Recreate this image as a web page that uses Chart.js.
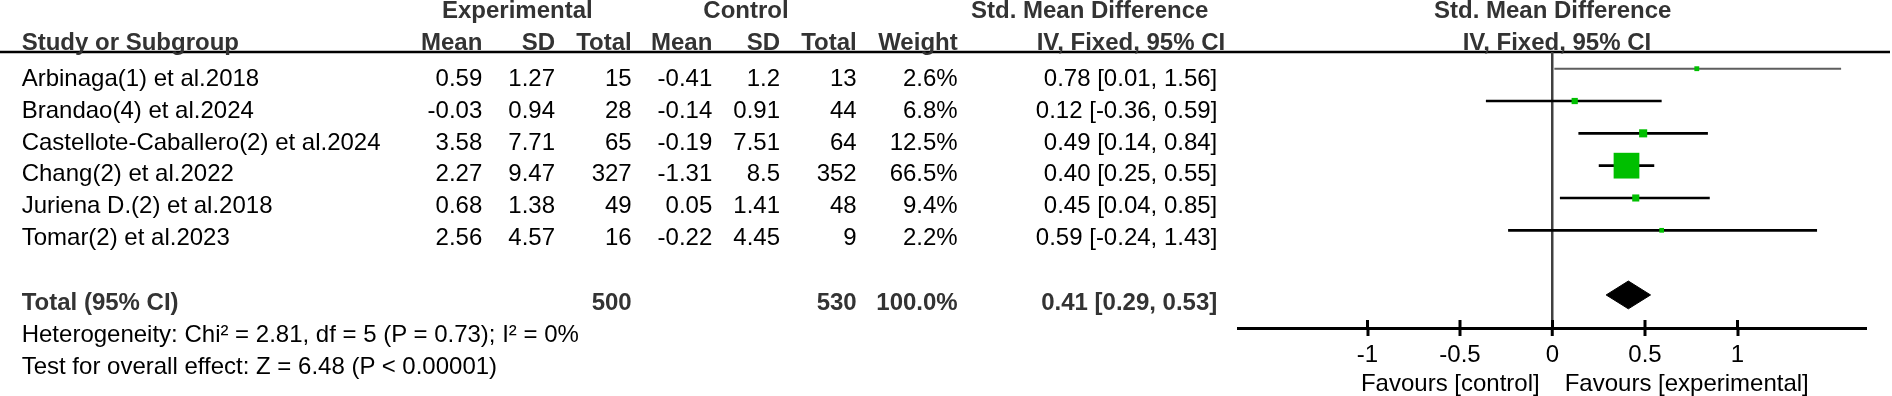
<!DOCTYPE html>
<html>
<head>
<meta charset="utf-8">
<script src="https://cdn.jsdelivr.net/npm/chart.js@4"></script>
<style>
  html, body { margin:0; padding:0; background:#fff; }
  #wrap { position:relative; width:1892px; height:396px; overflow:hidden; }
  #c { position:absolute; left:0; top:0; }
  .t { position:absolute; font-family:'Liberation Sans', Arial, sans-serif; font-size:24px; line-height:24px; white-space:nowrap; color:#000; z-index:2; }
  .b { font-weight:bold; color:#333; }
</style>
</head>
<body>
<div id="wrap"><canvas id="c" width="1892" height="396"></canvas></div>
<script>
// ---------- data ----------
const studies = ["Arbinaga(1) et al.2018","Brandao(4) et al.2024","Castellote-Caballero(2) et al.2024","Chang(2) et al.2022","Juriena D.(2) et al.2018","Tomar(2) et al.2023"];
const expMean  = [0.59, -0.03, 3.58, 2.27, 0.68, 2.56];
const expSD    = [1.27, 0.94, 7.71, 9.47, 1.38, 4.57];
const expTotal = [15, 28, 65, 327, 49, 16];
const ctlMean  = [-0.41, -0.14, -0.19, -1.31, 0.05, -0.22];
const ctlSD    = [1.2, 0.91, 7.51, 8.5, 1.41, 4.45];
const ctlTotal = [13, 44, 64, 352, 48, 9];
const weight   = [2.6, 6.8, 12.5, 66.5, 9.4, 2.2];
const smd      = [0.78, 0.12, 0.49, 0.40, 0.45, 0.59];
const ciLow    = [0.01, -0.36, 0.14, 0.25, 0.04, -0.24];
const ciHigh   = [1.56, 0.59, 0.84, 0.55, 0.85, 1.43];
const totalExp = 500, totalCtl = 530, totalWeight = 100.0;
const totalSMD = 0.41, totalLow = 0.29, totalHigh = 0.53;
const tickValues = [-1, -0.5, 0, 0.5, 1];
const tickLabels = ["-1", "-0.5", "0", "0.5", "1"];
const xRange = [-1.7, 1.7];
const heterogeneity = "Heterogeneity: Chi\u00b2 = 2.81, df = 5 (P = 0.73); I\u00b2 = 0%";
const overallTest = "Test for overall effect: Z = 6.48 (P < 0.00001)";
const favours = ["Favours [control]", "Favours [experimental]"];

// ---------- layout / style constants ----------
const TOTAL_ROW = 7;
const DIAMOND_HALF = 0.43;   // row units
const BASE_ASC = 20.3;       // px from div top to baseline at 24px
const wrap = document.getElementById('wrap');
function txt(s, x, baseline, align, cls) {
  const d = document.createElement('div');
  d.className = 't' + (cls ? ' ' + cls : '');
  d.textContent = s;
  d.style.left = x + 'px';
  d.style.top = (baseline - BASE_ASC) + 'px';
  if (align === 'right') d.style.transform = 'translateX(-100%)';
  if (align === 'center') d.style.transform = 'translateX(-50%)';
  wrap.appendChild(d);
}
const colR = { eMean:482.3, eSD:555, eTot:631.7, cMean:712.3, cSD:780, cTot:856.7, w:957.7, ci:1217.3 };
// header rows
txt("Experimental", 442, 18.3, 'left', 'b');
txt("Control", 703.3, 18.3, 'left', 'b');
txt("Std. Mean Difference", 971, 18.3, 'left', 'b');
txt("Std. Mean Difference", 1434, 18.3, 'left', 'b');
txt("Study or Subgroup", 21.7, 50, 'left', 'b');
txt("Mean", colR.eMean, 50, 'right', 'b');
txt("SD", colR.eSD, 50, 'right', 'b');
txt("Total", colR.eTot, 50, 'right', 'b');
txt("Mean", colR.cMean, 50, 'right', 'b');
txt("SD", colR.cSD, 50, 'right', 'b');
txt("Total", colR.cTot, 50, 'right', 'b');
txt("Weight", colR.w, 50, 'right', 'b');
txt("IV, Fixed, 95% CI", 1036.7, 50, 'left', 'b');
txt("IV, Fixed, 95% CI", 1462.7, 50, 'left', 'b');
// study rows
const ci = (m, l, h) => m.toFixed(2) + " [" + l.toFixed(2) + ", " + h.toFixed(2) + "]";
studies.forEach((s, i) => {
  const bl = 86 + 31.9 * i;
  txt(s, 21.7, bl, 'left');
  txt(String(expMean[i]), colR.eMean, bl, 'right');
  txt(String(expSD[i]), colR.eSD, bl, 'right');
  txt(String(expTotal[i]), colR.eTot, bl, 'right');
  txt(String(ctlMean[i]), colR.cMean, bl, 'right');
  txt(String(ctlSD[i]), colR.cSD, bl, 'right');
  txt(String(ctlTotal[i]), colR.cTot, bl, 'right');
  txt(weight[i].toFixed(1) + "%", colR.w, bl, 'right');
  txt(ci(smd[i], ciLow[i], ciHigh[i]), colR.ci, bl, 'right');
});
// total rows
txt("Total (95% CI)", 21.7, 310.5, 'left', 'b');
txt(String(totalExp), colR.eTot, 310.5, 'right', 'b');
txt(String(totalCtl), colR.cTot, 310.5, 'right', 'b');
txt(totalWeight.toFixed(1) + "%", colR.w, 310.5, 'right', 'b');
txt(ci(totalSMD, totalLow, totalHigh), colR.ci, 310.5, 'right', 'b');
txt(heterogeneity, 21.7, 342.7, 'left');
txt(overallTest, 21.7, 374.3, 'left');
txt(favours[0], 1539.7, 391, 'right');
txt(favours[1], 1564.7, 391, 'left');

// ---------- chart ----------
const AXIS_Y = 328, HEAD_Y = 52;
const datasets = [];
studies.forEach((s, i) => {
  datasets.push({
    type: 'line', label: s,
    data: [{x: ciLow[i], y: i}, {x: ciHigh[i], y: i}],
    borderColor: i === 0 ? '#5e5e5e' : '#000', borderWidth: i === 0 ? 2 : 2.7,
    pointRadius: 0, fill: false, order: 2
  });
});
datasets.push({
  type: 'scatter', label: 'SMD',
  data: smd.map((v, i) => ({x: v, y: i})),
  pointStyle: 'rect', backgroundColor: '#00bf00', borderWidth: 0,
  pointRadius: ctx => (4 + 0.327 * weight[ctx.dataIndex]) / Math.SQRT2,
  order: 1
});
datasets.push({
  type: 'line', label: 'Total',
  data: [{x: totalLow, y: TOTAL_ROW}, {x: totalSMD, y: TOTAL_ROW - DIAMOND_HALF},
         {x: totalHigh, y: TOTAL_ROW}, {x: totalSMD, y: TOTAL_ROW + DIAMOND_HALF},
         {x: totalLow, y: TOTAL_ROW}],
  fill: 'shape', backgroundColor: '#000', borderColor: '#000', borderWidth: 1,
  pointRadius: 0, tension: 0, order: 1
});

const decor = {
  id: 'decor',
  beforeDraw(chart) {
    const c = chart.ctx;
    c.save();
    c.strokeStyle = '#000'; c.lineWidth = 2.6;
    c.beginPath(); c.moveTo(0, HEAD_Y); c.lineTo(1890, HEAD_Y); c.stroke();
    c.restore();
  },
  afterDraw(chart) {
    const c = chart.ctx, xs = chart.scales.x, b = chart.chartArea.bottom;
    c.save();
    c.strokeStyle = '#000'; c.lineWidth = 3;
    tickValues.forEach(v => {
      const px = xs.getPixelForValue(v);
      c.beginPath(); c.moveTo(px, b - 8); c.lineTo(px, b); c.stroke();
    });
    c.restore();
  }
};

new Chart(document.getElementById('c'), {
  type: 'scatter',
  data: { datasets },
  plugins: [decor],
  options: {
    responsive: false, animation: false,
    layout: { padding: { left: 1238, right: 25, top: HEAD_Y, bottom: 0 } },
    plugins: { legend: { display: false }, tooltip: { enabled: false } },
    scales: {
      x: {
        type: 'linear', min: xRange[0], max: xRange[1], position: 'bottom',
        afterBuildTicks: s => { s.ticks = tickValues.map(v => ({ value: v })); },
        afterFit: s => { s.height = 396 - AXIS_Y; },
        border: { display: true, color: '#000', width: 3 },
        grid: {
          drawOnChartArea: true, drawTicks: true, tickLength: 8,
          color: c => (c.tick && c.tick.value === 0) ? '#404040' : 'rgba(0,0,0,0)',
          lineWidth: c => (c.tick && c.tick.value === 0) ? 2.5 : 0,
          tickColor: '#000', tickWidth: 3
        },
        ticks: {
          color: '#000', font: { family: "'Liberation Sans', Arial", size: 24 }, padding: 5,
          autoSkip: false, maxRotation: 0,
          callback: v => { const k = tickValues.indexOf(v); return k >= 0 ? tickLabels[k] : ''; }
        }
      },
      y: { type: 'linear', min: -0.5167, max: 8.0228, reverse: true, display: false }
    }
  }
});
</script>
</body>
</html>
